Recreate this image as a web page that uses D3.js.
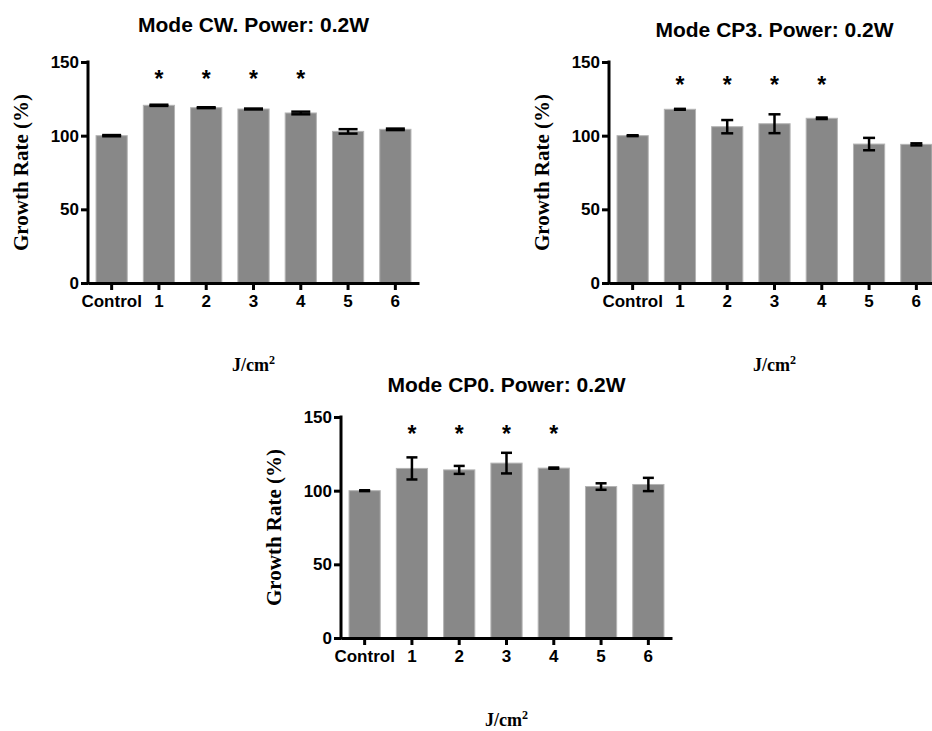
<!DOCTYPE html>
<html>
<head>
<meta charset="utf-8">
<script src="https://cdn.jsdelivr.net/npm/d3@7"></script>
<style>
  body { margin: 0; background: #fff; }
  svg { display: block; }
</style>
</head>
<body>
<div id="chart"></div>
<script>
// values (growth rate %, mean and error)
var categories = ["Control", "1", "2", "3", "4", "5", "6"]
var yTicks = [0, 50, 100, 150]
var significant = [false, true, true, true, true, false, false]

var cwMean = [100, 120.6, 119.0, 118.1, 115.4, 102.9, 104.3]
var cwErr = [0.4, 0.4, 0.3, 0.3, 0.9, 1.5, 0.5]

var cp3Mean = [100, 117.9, 106.1, 108.1, 111.8, 94.3, 94.1]
var cp3Err = [0.3, 0.3, 4.5, 6.4, 0.5, 4.2, 0.7]

var cp0Mean = [100, 115.1, 114.1, 118.7, 115.3, 102.8, 104.2]
var cp0Err = [0.3, 7.5, 2.7, 7.0, 0.4, 2.2, 4.5]

var width = 932, height = 731
var svg = d3.select("#chart").append("svg")
    .attr("width", width)
    .attr("height", height)

var sans = "'Liberation Sans', Arial, sans-serif"
var serif = "'Liberation Serif', 'Times New Roman', serif"

function drawChart(opts){
    var left = opts.left, top = opts.top, plotW = 331, plotH = 221
    var g = svg.append("g").attr("transform", "translate(" + left + "," + top + ")")

    var x = d3.scaleBand().domain(categories).range([0, plotW]).paddingInner(0.34).paddingOuter(0.17)
    var y = d3.scaleLinear().domain([0, 150]).range([plotH, 0])

    // bars
    g.selectAll(".bar").data(opts.mean).enter().append("rect")
        .attr("x", function(d, i){ return x(categories[i]) })
        .attr("y", function(d){ return y(d) })
        .attr("width", x.bandwidth())
        .attr("height", function(d){ return plotH - y(d) })
        .style("fill", "#888888")
        .style("stroke", "#b4b4b4")
        .style("stroke-width", 1)

    // error bars
    var cap = opts.cap
    opts.mean.forEach(function(m, i){
        var cx = x(categories[i]) + x.bandwidth()/2
        var e = opts.err[i]
        g.append("line").attr("x1", cx).attr("x2", cx)
            .attr("y1", y(m + e)).attr("y2", y(m - e))
            .style("stroke", "black").style("stroke-width", 2.5)
        ;[m + e, m - e].forEach(function(v){
            g.append("line").attr("x1", cx - cap/2).attr("x2", cx + cap/2)
                .attr("y1", y(v)).attr("y2", y(v))
                .style("stroke", "black").style("stroke-width", 2.5)
        })
        if(significant[i]){
            g.append("text")
                .attr("x", cx)
                .attr("y", y(opts.star) + 12)
                .attr("text-anchor", "middle")
                .style("font-family", sans)
                .style("font-weight", "bold")
                .style("font-size", "23px")
                .text("*")
        }
    })

    // axes
    var yAxis = g.append("g")
        .call(d3.axisLeft(y).tickValues(yTicks).tickSize(7).tickSizeOuter(0).tickPadding(2))
    var xAxis = g.append("g")
        .attr("transform", "translate(0," + plotH + ")")
        .call(d3.axisBottom(x).tickSize(7).tickSizeOuter(0).tickPadding(5))
    ;[yAxis, xAxis].forEach(function(a){
        a.select(".domain").style("stroke-width", 3)
        a.selectAll(".tick line").style("stroke-width", 3)
        a.selectAll("text")
            .style("font-family", sans)
            .style("font-weight", "bold")
            .style("font-size", "17px")
            .style("fill", "black")
    })
    // y axis line runs down to meet the x axis
    yAxis.select(".domain").attr("d", "M0,-1.5V" + (plotH + 1.5))

    // title
    g.append("text")
        .attr("x", plotW/2)
        .attr("y", -opts.titleGap)
        .attr("text-anchor", "middle")
        .style("font-family", sans)
        .style("font-weight", "bold")
        .style("font-size", "21px")
        .text(opts.title)

    // y label
    g.append("text")
        .attr("transform", "translate(-60," + plotH/2 + ") rotate(-90)")
        .attr("text-anchor", "middle")
        .style("font-family", serif)
        .style("font-weight", "bold")
        .style("font-size", "21px")
        .text("Growth Rate (%)")

    // x label
    var xl = g.append("text")
        .attr("x", plotW/2)
        .attr("y", plotH + 88)
        .attr("text-anchor", "middle")
        .style("font-family", serif)
        .style("font-weight", "bold")
        .style("font-size", "18px")
    xl.append("tspan").text("J/cm")
    xl.append("tspan").attr("dy", -7).style("font-size", "12px").text("2")
}

drawChart({left: 88, top: 62, title: "Mode CW. Power: 0.2W", titleGap: 30,
    mean: cwMean, err: cwErr, cap: 19, star: 141})
drawChart({left: 609, top: 62, title: "Mode CP3. Power: 0.2W", titleGap: 25,
    mean: cp3Mean, err: cp3Err, cap: 12, star: 137})
drawChart({left: 341, top: 417, title: "Mode CP0. Power: 0.2W", titleGap: 25,
    mean: cp0Mean, err: cp0Err, cap: 11, star: 141})
</script>
</body>
</html>
